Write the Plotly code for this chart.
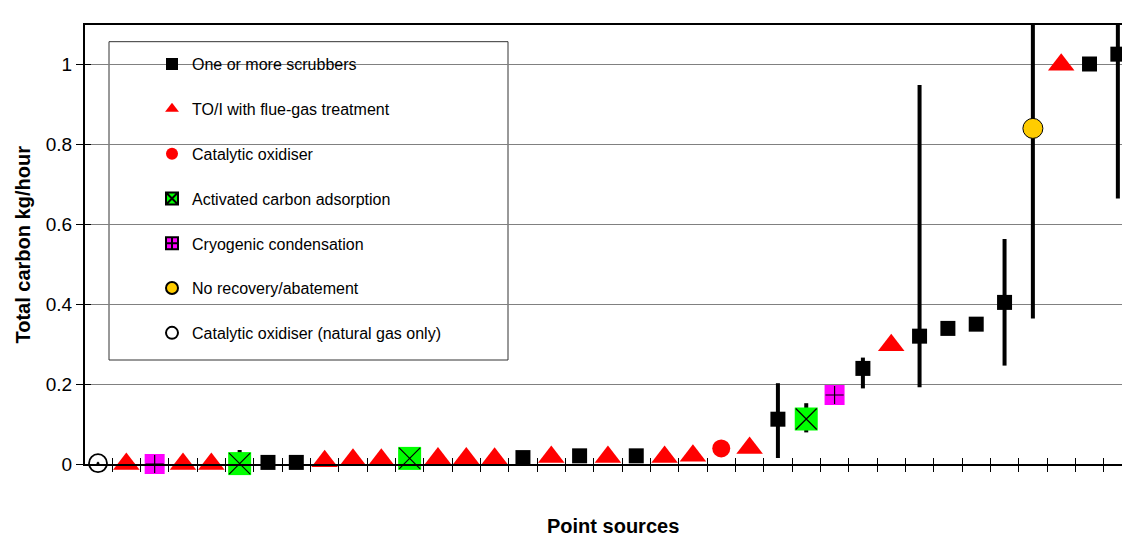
import plotly.graph_objects as go

# ---- data ----
point_source = list(range(1, 38))
technique = ["natgas", "toi", "cryo", "toi", "toi", "act", "scrub", "scrub", "toi", "toi",
             "toi", "act", "toi", "toi", "toi", "scrub", "toi", "scrub", "toi", "scrub",
             "toi", "toi", "cat", "toi", "scrub", "act", "cryo", "scrub", "toi", "scrub",
             "scrub", "scrub", "scrub", "none", "toi", "scrub", "scrub"]
total_carbon = [0.002, 0.0, 0.0, 0.0, 0.0, 0.001, 0.004, 0.004, 0.007, 0.0105,
                0.0105, 0.014, 0.014, 0.014, 0.013, 0.016, 0.0175, 0.0204, 0.0175, 0.0204,
                0.0175, 0.0204, 0.039, 0.040, 0.112, 0.1125, 0.1725, 0.239, 0.297, 0.3196,
                0.339, 0.3496, 0.404, 0.839, 0.998, 1.0, 1.0246]
range_high = [None, None, None, None, None, 0.035, None, None, None, None,
              None, None, None, None, None, None, None, None, None, None,
              None, None, None, None, 0.202, 0.152, None, 0.266, None, 0.9475,
              None, None, 0.5625, 1.121, None, None, 1.128]
range_low = [None, None, None, None, None, 0.001, None, None, None, None,
             None, None, None, None, None, None, None, None, None, None,
             None, None, None, None, 0.015, 0.079, None, 0.189, None, 0.192,
             None, None, 0.246, 0.364, None, None, 0.664]

y_ticks = [0, 0.2, 0.4, 0.6, 0.8, 1.0]
y_tick_labels = ["0", "0.2", "0.4", "0.6", "0.8", "1"]

# key, legend name, plot marker, overlay glyph (or None), legend marker
series = [
    ("scrub", "One or more scrubbers",
     dict(symbol="square", size=15, color="#000000"), None, None),
    ("toi", "TO/I with flue-gas treatment",
     dict(symbol="triangle-up", size=23, color="#FF0000"), None, None),
    ("cat", "Catalytic oxidiser",
     dict(symbol="circle", size=18, color="#FF0000"), None, None),
    ("act", "Activated carbon adsorption",
     dict(symbol="square", size=23, color="#00FF00"),
     dict(symbol="x-thin", size=21, color="#000000", line=dict(color="#000000", width=1.2)),
     dict(symbol="square-x", color="#00FF00", line=dict(color="#000000", width=1))),
    ("cryo", "Cryogenic condensation",
     dict(symbol="square", size=20, color="#FF00FF"),
     dict(symbol="cross-thin", size=13, color="#000000", line=dict(color="#000000", width=1.2)),
     dict(symbol="square-cross", color="#FF00FF", line=dict(color="#000000", width=1))),
    ("none", "No recovery/abatement",
     dict(symbol="circle", size=20, color="#FFCC00", line=dict(color="#000000", width=1)), None, None),
    ("natgas", "Catalytic oxidiser (natural gas only)",
     dict(symbol="circle-dot", size=18, color="#FFFFFF", line=dict(color="#000000", width=1.8)),
     None, dict(symbol="circle-open", color="#000000", line=dict(color="#000000", width=1.5))),
]

FONT = "Liberation Sans, Arial, sans-serif"
fig = go.Figure()

for rank, (key, name, marker, glyph, legend_marker) in enumerate(series):
    idx = [i for i, t in enumerate(technique) if t == key]
    xs = [point_source[i] for i in idx]
    ys = [total_carbon[i] for i in idx]
    up = [(range_high[i] - total_carbon[i]) if range_high[i] is not None else None for i in idx]
    dn = [(total_carbon[i] - range_low[i]) if range_low[i] is not None else None for i in idx]
    has_err = any(u is not None for u in up)
    fig.add_trace(go.Scatter(
        x=xs, y=ys, mode="markers", name=name, legendgroup=key, legendrank=rank + 1,
        showlegend=legend_marker is None,
        marker=marker, cliponaxis=False,
        error_y=dict(type="data", symmetric=False, array=up, arrayminus=dn,
                     color="#000000", thickness=4, width=0, visible=has_err),
    ))
    if glyph is not None:
        fig.add_trace(go.Scatter(x=xs, y=ys, mode="markers", marker=glyph, cliponaxis=False,
                                 legendgroup=key, showlegend=False, hoverinfo="skip"))
    if legend_marker is not None:
        # legend-only entry (no data) carrying the composite symbol
        fig.add_trace(go.Scatter(x=[None], y=[None], mode="markers", name=name,
                                 legendgroup=key, legendrank=rank + 1, marker=legend_marker))

# empty trace to host the overlay axes used for the inner half of the cross ticks
fig.add_trace(go.Scatter(x=[], y=[], xaxis="x2", yaxis="y2", showlegend=False, hoverinfo="skip"))

n = len(point_source)
x_range = [0.541, 37.146]
y_range = [0, 1.0975]
boundaries = [k + 0.5 for k in range(0, n + 1)]

FIG_W, FIG_H = 1114, 531
PLOT_W = FIG_W - 77
fig.update_layout(
    width=FIG_W, height=FIG_H,
    margin=dict(l=77, r=0, t=17, b=FIG_H - 17 - 439),
    paper_bgcolor="white", plot_bgcolor="white",
    font=dict(family=FONT, color="#000000"),
    showlegend=True,
    xaxis=dict(range=x_range, tickvals=boundaries, showticklabels=False,
               ticks="outside", ticklen=6, tickwidth=1, tickcolor="#000000",
               showgrid=False, zeroline=False,
               showline=True, linecolor="#000000", linewidth=2, mirror=True),
    yaxis=dict(range=y_range, tickvals=y_ticks, ticktext=y_tick_labels,
               ticks="outside", ticklen=7, tickwidth=1, tickcolor="#000000",
               tickfont=dict(size=19, family=FONT, color="#000000"),
               showgrid=True, gridcolor="#808080", gridwidth=1.3,
               zeroline=False, showline=True, linecolor="#000000", linewidth=2),
    xaxis2=dict(range=x_range, tickvals=boundaries, showticklabels=False, overlaying="x",
                anchor="y2", ticks="inside", ticklen=6, tickwidth=1, tickcolor="#000000",
                showgrid=False, zeroline=False, showline=False),
    yaxis2=dict(range=y_range, tickvals=y_ticks, showticklabels=False, overlaying="y",
                anchor="x2", side="left", ticks="inside", ticklen=6, tickwidth=1,
                tickcolor="#000000", showgrid=False, zeroline=False, showline=False),
    legend=dict(x=(152 - 85) / PLOT_W, y=0.9495, xanchor="left", yanchor="top",
                bgcolor="rgba(0,0,0,0)", borderwidth=0,
                font=dict(size=16, family=FONT, color="#000000"),
                itemsizing="constant", tracegroupgap=21, traceorder="grouped"),
    shapes=[dict(type="rect", xref="paper", yref="paper",
                 x0=(109 - 85) / PLOT_W, x1=(508 - 85) / PLOT_W, y0=0.2369, y1=0.962,
                 line=dict(color="#333333", width=1), fillcolor="white", layer="between")],
    annotations=[
        dict(text="<b>Total carbon kg/hour</b>", xref="paper", yref="paper",
             x=(22 - 85) / PLOT_W, y=0.5, textangle=-90, showarrow=False,
             xanchor="center", yanchor="middle", font=dict(size=20, family=FONT, color="#000000")),
        dict(text="<b>Point sources</b>", xref="paper", yref="paper",
             x=(613 - 85) / PLOT_W, y=-(FIG_H - 17 - 439) / 439, showarrow=False,
             xanchor="center", yanchor="bottom", font=dict(size=20, family=FONT, color="#000000")),
    ],
)

fig.write_html("out.html")
